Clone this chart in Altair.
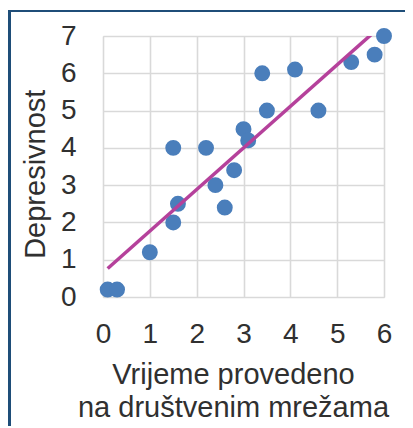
import altair as alt
import pandas as pd

vrijeme = [0.1, 0.3, 1.0, 1.5, 1.6, 1.5, 2.2, 2.4, 2.6, 2.8, 3.0, 3.1, 3.4, 3.5, 4.1, 4.6, 5.3, 5.8, 6.0]
depresivnost = [0.2, 0.2, 1.2, 2.0, 2.5, 4.0, 4.0, 3.0, 2.4, 3.4, 4.5, 4.2, 6.0, 5.0, 6.1, 5.0, 6.3, 6.5, 7.0]
x_ticks = [0, 1, 2, 3, 4, 5, 6]
y_ticks = [0, 1, 2, 3, 4, 5, 6, 7]

df = pd.DataFrame({"x": vrijeme, "y": depresivnost})

FONT = "Liberation Sans"
TXT = "#303030"

x_enc = alt.X(
    "x:Q",
    scale=alt.Scale(domain=[0, 6], nice=False, zero=False),
    axis=alt.Axis(
        values=x_ticks,
        title=["Vrijeme provedeno", "na društvenim mrežama"],
        titleFontSize=29,
        titleFont=FONT,
        titleColor=TXT,
        titleFontWeight="normal",
        titleBaseline="alphabetic",
        titleAlign="center",
        titleX=130,
        titleY=86.7,
        titleLineHeight=33,
        labelFontSize=28,
        labelFont=FONT,
        labelColor=TXT,
        labelBaseline="alphabetic",
        labelPadding=45,
        labelFlush=False,
        labelOverlap=False,
        ticks=False,
        tickSize=0,
        domain=False,
        grid=True,
        gridColor="#d9d9d9",
        gridWidth=1.6,
    ),
)
y_enc = alt.Y(
    "y:Q",
    scale=alt.Scale(domain=[0, 7], nice=False, zero=False),
    axis=alt.Axis(
        values=y_ticks,
        title="Depresivnost",
        titleFontSize=29,
        titleFont=FONT,
        titleColor=TXT,
        titleFontWeight="normal",
        titleAngle=270,
        titleBaseline="alphabetic",
        titleAlign="center",
        titleX=-59,
        titleY=137.7,
        labelFontSize=28,
        labelFont=FONT,
        labelColor=TXT,
        labelPadding=27,
        labelFlush=False,
        labelOverlap=False,
        ticks=False,
        tickSize=0,
        domain=False,
        grid=True,
        gridColor="#d9d9d9",
        gridWidth=1.6,
    ),
)

points = alt.Chart(df).mark_circle(size=254, opacity=1, color="#4a7ebb").encode(x=x_enc, y=y_enc)

trend = (
    alt.Chart(df)
    .transform_regression("x", "y")
    .mark_line(color="#b5419b", strokeWidth=3.5, clip=True)
    .encode(x=x_enc, y=y_enc)
)

frame_left = alt.Chart(df).mark_rule(color="#1f4e79", strokeWidth=2.2).encode(
    x=alt.value(-93.7), y=alt.value(-25), y2=alt.value(420)
)
frame_top = alt.Chart(df).mark_rule(color="#1f4e79", strokeWidth=2.2).encode(
    x=alt.value(-94.8), x2=alt.value(320), y=alt.value(-25)
)

chart = (
    alt.layer(points, trend, frame_left, frame_top)
    .properties(
        width=281,
        height=261,
        autosize=alt.AutoSizeParams(type="none"),
        padding={"left": 95, "top": 28, "right": 21, "bottom": 129},
    )
    .configure_view(stroke=None)
    .configure_axis(labelOverlap=False)
    .configure(background="white")
)

chart.save("out.html", embed_options={"renderer": "svg", "actions": False})
